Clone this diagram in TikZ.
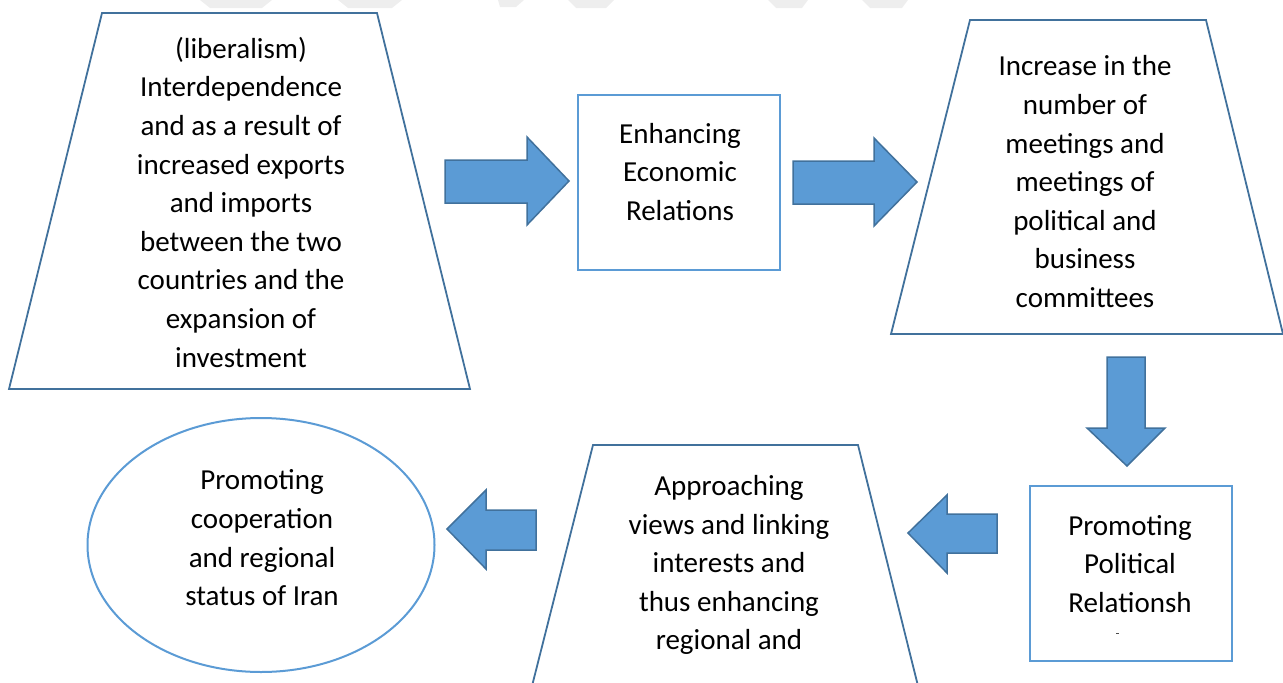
\documentclass[tikz,border=0pt]{standalone}
\usepackage{fontspec}
\setmainfont{Carlito}
\usetikzlibrary{shapes.geometric}
\definecolor{darkb}{HTML}{41719C}
\definecolor{lightb}{HTML}{5B9BD5}
\definecolor{wm}{HTML}{EEEEEE}
\tikzset{
  trap/.style={draw=darkb, line width=1.8pt, line join=miter},
  lbox/.style={draw=lightb, line width=2pt, rectangle, inner sep=0pt},
  lell/.style={draw=lightb, line width=2pt, ellipse, inner sep=0pt},
  barrow/.style={draw=darkb, fill=lightb, line width=1.5pt, line join=miter},
  txt/.style={align=center, inner sep=0pt, text=black,
    font=\fontsize{29}{38.6}\selectfont},
  wmark/.style={fill=wm, draw=none}
}
\begin{document}
\begin{tikzpicture}[x=1pt,y=-1pt]
\useasboundingbox (0,0) rectangle (1283,683);
% faint watermark fragments
\fill[wmark] (200,0) -- (272,0) -- (262,8) -- (210,8) -- cycle;
\fill[wmark] (338,0) -- (402,0) -- (392,8) -- (348,8) -- cycle;
\fill[wmark] (498,0) -- (524,0) -- (516,7) -- (500,7) -- cycle;
\fill[wmark] (568,0) -- (614,0) -- (606,8) -- (576,8) -- cycle;
\fill[wmark] (768,0) -- (808,0) -- (802,8) -- (776,8) -- cycle;
\fill[wmark] (862,0) -- (908,0) -- (902,8) -- (870,8) -- cycle;

% trapezoid 1
\coordinate (a1) at (102,13); \coordinate (a2) at (377,13);
\coordinate (a3) at (470,389); \coordinate (a4) at (9,389);
\draw[trap] (a1) -- (a2) -- (a3) -- (a4) -- cycle;
\node[txt] (t1) at (241,205) {\strut(liberalism)\\Interdependence\\and as a result of\\increased exports\\and imports\\between the two\\countries and the\\expansion of\\investment\strut};

% box 1
\node[lbox, minimum width=202pt, minimum height=175pt] (b1) at (679,182.5) {};
\node[txt] (t2) at (680,174) {\strut Enhancing\\Economic\\Relations\strut};

% trapezoid 2
\coordinate (c1) at (970,20); \coordinate (c2) at (1206,20);
\coordinate (c3) at (1283,334); \coordinate (c4) at (891,334);
\draw[trap] (c1) -- (c2) -- (c3) -- (c4) -- cycle;
\node[txt] (t3) at (1085,184) {\strut Increase in the\\number of\\meetings and\\meetings of\\political and\\business\\committees\strut};

% box 2
\node[lbox, minimum width=202pt, minimum height=175pt] (b2) at (1130.5,573) {};
\node[txt] (t4) at (1130,566) {\strut Promoting\\Political\\Relationsh\strut};
\fill[black!70] (1116,633) rectangle (1119,634.2);

% trapezoid 3 (cut by the page edge)
\coordinate (d1) at (593,445); \coordinate (d2) at (858,445);
\coordinate (d3) at (919,690); \coordinate (d4) at (531,690);
\draw[trap] (d4) -- (d1) -- (d2) -- (d3);
\node[txt] (t5) at (729,565) {\strut Approaching\\views and linking\\interests and\\thus enhancing\\regional and\strut};

% ellipse
\node[lell, minimum width=347pt, minimum height=254pt] (e1) at (261,545) {};
\node[txt] (t6) at (262,540) {\strut Promoting\\cooperation\\and regional\\status of Iran\strut};

% block arrows
\draw[barrow] (445,160) -- (527,160) -- (527,137) -- (569,181) -- (527,225) -- (527,203) -- (445,203) -- cycle;
\draw[barrow] (793,161) -- (874,161) -- (874,138) -- (917,182) -- (874,226) -- (874,204) -- (793,204) -- cycle;
\draw[barrow] (1107,357) -- (1145,357) -- (1145,428) -- (1165,428) -- (1127,466) -- (1087,428) -- (1107,428) -- cycle;
\draw[barrow] (997,514) -- (947,514) -- (947,495) -- (908,533) -- (947,573) -- (947,553) -- (997,553) -- cycle;
\draw[barrow] (536,510) -- (486,510) -- (486,490) -- (447,529) -- (486,569) -- (486,550) -- (536,550) -- cycle;
\end{tikzpicture}
\end{document}
